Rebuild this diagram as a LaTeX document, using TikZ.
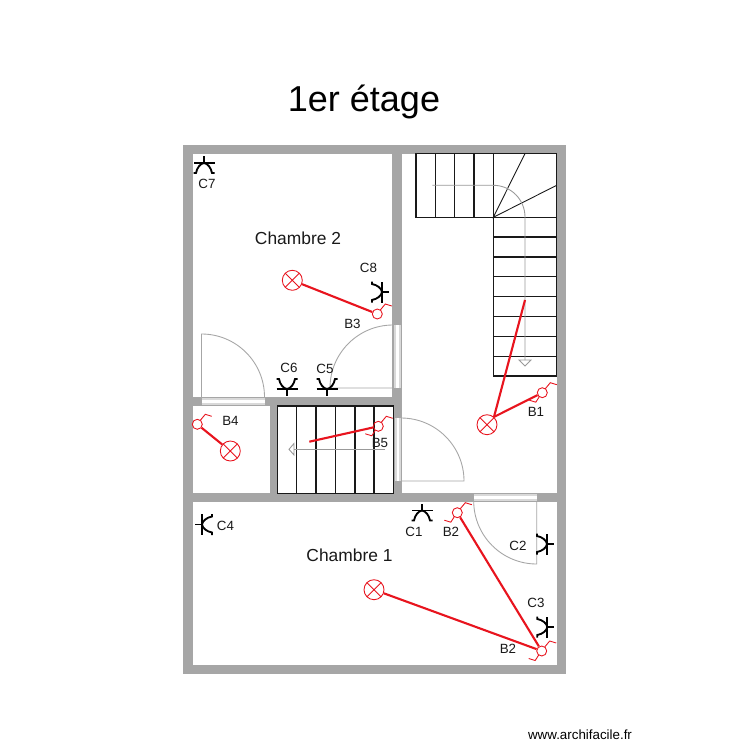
\documentclass[tikz,border=0pt]{standalone}
\usepackage{fontspec}
\setmainfont{Liberation Sans}
\definecolor{wallgray}{RGB}{166,166,166}
\definecolor{elec}{RGB}{232,20,30}
\tikzset{
  wall/.style={fill=wallgray},
  room/.style={fill=white},
  doorsill/.style={fill=black!15},
  doorleaf/.style={draw=black!35,line width=0.5pt},
  walkline/.style={draw=black!40,line width=0.5pt},
  treads/.style={draw=black!90,line width=0.7pt},
  wire/.style={draw=elec,line width=1.2pt},
  thinred/.style={draw=elec,line width=0.5pt},
  lamp/.style={circle,thinred,inner sep=0pt,minimum size=0.4cm,
    path picture={\draw[thinred] (path picture bounding box.north west)--(path picture bounding box.south east)
      (path picture bounding box.north east)--(path picture bounding box.south west);}},
  switch/.style={circle,thinred,inner sep=0pt,minimum size=0.2cm},
  lbl/.style={font=\fontsize{7.6}{9}\selectfont,text=black!90},
  roomname/.style={font=\fontsize{9.9}{12}\selectfont,text=black!90},
  pics/socket/.style={code={
    \draw[line width=1.05pt] (0,0)--(0,7) (-10.5,0)--(10.5,0);
    \draw[line width=1.05pt] (-10.5,-10)--(-8,-10) .. controls (-7,-4.5) and (-3.5,-0.5) .. (0,0) .. controls (3.5,-0.5) and (7,-4.5) .. (8,-10)--(10.5,-10);
  }},
  pics/tailup/.style={code={\draw[thinred] (3,-4)--(8,-10)--(14.5,-8);}},
  pics/taildown/.style={code={\draw[thinred] (-3,4)--(-6.5,9.5)--(-13,7.5);}},
}
\begin{document}
\begin{tikzpicture}[x=0.02cm,y=-0.02cm]
\useasboundingbox (0,0) rectangle (750,750);
% walls
\fill[wall] (183,145) rectangle (566,674);
\fill[room] (192.5,154) rectangle (392,397);
\fill[room] (402,154) rectangle (556.5,493);
\fill[room] (192.5,406) rectangle (270,493);
\fill[room] (278,406) rectangle (393,493);
\fill[room] (192.5,502) rectangle (556.5,665);
% doors
\fill[doorsill] (201.5,397.5) rectangle (264.5,405);
\fill[white] (201.5,399.5) rectangle (264.5,403);
\fill[doorsill] (393.5,325) rectangle (400.5,388);
\fill[white] (395.5,325) rectangle (398.5,388);
\fill[doorsill] (394.5,418) rectangle (401,481);
\fill[white] (396.5,418) rectangle (399,481);
\fill[doorsill] (473.5,494) rectangle (536.5,501);
\fill[white] (473.5,496) rectangle (536.5,499);
\draw[doorleaf] (201.5,397)--(201.5,334) arc[start angle=-90,end angle=0,radius=63];
\draw[doorleaf] (393,388)--(330,388) arc[start angle=180,end angle=270,radius=63];
\draw[doorleaf] (401,481)--(464,481) arc[start angle=0,end angle=-90,radius=63];
\draw[doorleaf] (536.7,501)--(536.7,564) arc[start angle=90,end angle=180,radius=63];
% stairs, landing side
\draw[treads] (416,153.5) rectangle (556.7,217.3);
\draw[treads] (493.3,217.3) rectangle (556.7,376);
\foreach \x in {435.3,454.7,474,493.3} \draw[treads] (\x,153.5)--(\x,217.3);
\foreach \y in {237,257,276.7,296.7,316.5,336.5,356.3} \draw[treads] (493.3,\y)--(556.7,\y);
\draw[treads,line width=0.5pt] (525,153.5)--(493.3,217.3)--(556.7,185.3);
\draw[walkline] (432.3,185.3)--(493.3,185.3) arc[start angle=-90,end angle=0,radius=31.7]--(525,360);
\draw[walkline] (519,360)--(531,360)--(525,366)--cycle;
% stairs, small flight
\draw[treads,line width=0.9pt] (277.5,406) rectangle (393.5,493.3);
\foreach \x in {296.7,316,335.5,355,374} \draw[treads] (\x,406)--(\x,493.3);
\draw[walkline] (385,449.3)--(294,449.3);
\draw[walkline] (294,443.5)--(294,455)--(289,449.3)--cycle;
% sockets
\pic at (204,163) [rotate=180] {socket};
\pic at (382,292) [rotate=90] {socket};
\pic at (287,389) {socket};
\pic at (327,389) {socket};
\pic at (202,524.5) [rotate=-90] {socket};
\pic at (422,510.5) [rotate=180] {socket};
\pic at (547,544) [rotate=90] {socket};
\pic at (547.3,627) [rotate=90] {socket};
% lamps and switches
\node[lamp] (lampch) at (292.3,280.3) {};
\node[lamp] (lampwc) at (230.3,451) {};
\node[lamp] (lampst) at (487,424.7) {};
\node[lamp] (lampcu) at (374,589.7) {};
\node[switch] (swthree) at (377.3,314) {};
\node[switch] (swfour) at (197.3,424.3) {};
\node[switch] (swfive) at (378.3,426.3) {};
\node[switch] (swone) at (542.3,392.7) {};
\node[switch] (swtwo) at (457.3,512.7) {};
\node[switch] (swtwob) at (541.7,651) {};
\foreach \s in {swthree,swfour,swfive,swone,swtwo,swtwob} \pic at (\s) {tailup};
\foreach \s in {swfive,swone,swtwo,swtwob} \pic at (\s) {taildown};
\coordinate (endfive) at (309.3,441.7);
\coordinate (endstair) at (525,300);
\draw[wire] (lampch)--(swthree);
\draw[wire] (lampwc)--(swfour);
\draw[wire] (endfive)--(swfive);
\draw[wire] (lampst.48)--(swone);
\draw[wire] (lampst.48)--(endstair);
\draw[wire] (swtwo)--(swtwob);
\draw[wire] (lampcu)--(swtwob);
% labels
\node[font=\fontsize{20.5}{24}\selectfont,text=black] (titre) at (364,102) {1er étage};
\node[roomname] (chdeux) at (298,238) {Chambre 2};
\node[roomname] (chun) at (349.5,555) {Chambre 1};
\node[lbl] (cseven) at (207,184) {C7};
\node[lbl] (ceight) at (368.5,268) {C8};
\node[lbl] (bthree) at (352.5,324) {B3};
\node[lbl] (csix) at (289,368) {C6};
\node[lbl] (cfive) at (325,368.5) {C5};
\node[lbl] (bfour) at (230.5,421) {B4};
\node[lbl] (bfive) at (380,443) {B5};
\node[lbl] (bone) at (536,412) {B1};
\node[lbl] (cone) at (414,532) {C1};
\node[lbl] (btwo) at (451,532) {B2};
\node[lbl] (ctwo) at (518,546) {C2};
\node[lbl] (cthree) at (536,603) {C3};
\node[lbl] (btwob) at (508,649) {B2};
\node[lbl] (cfour) at (225.5,526) {C4};
\node[lbl,text=black] (site) at (580,735) {www.archifacile.fr};
\end{tikzpicture}
\end{document}
